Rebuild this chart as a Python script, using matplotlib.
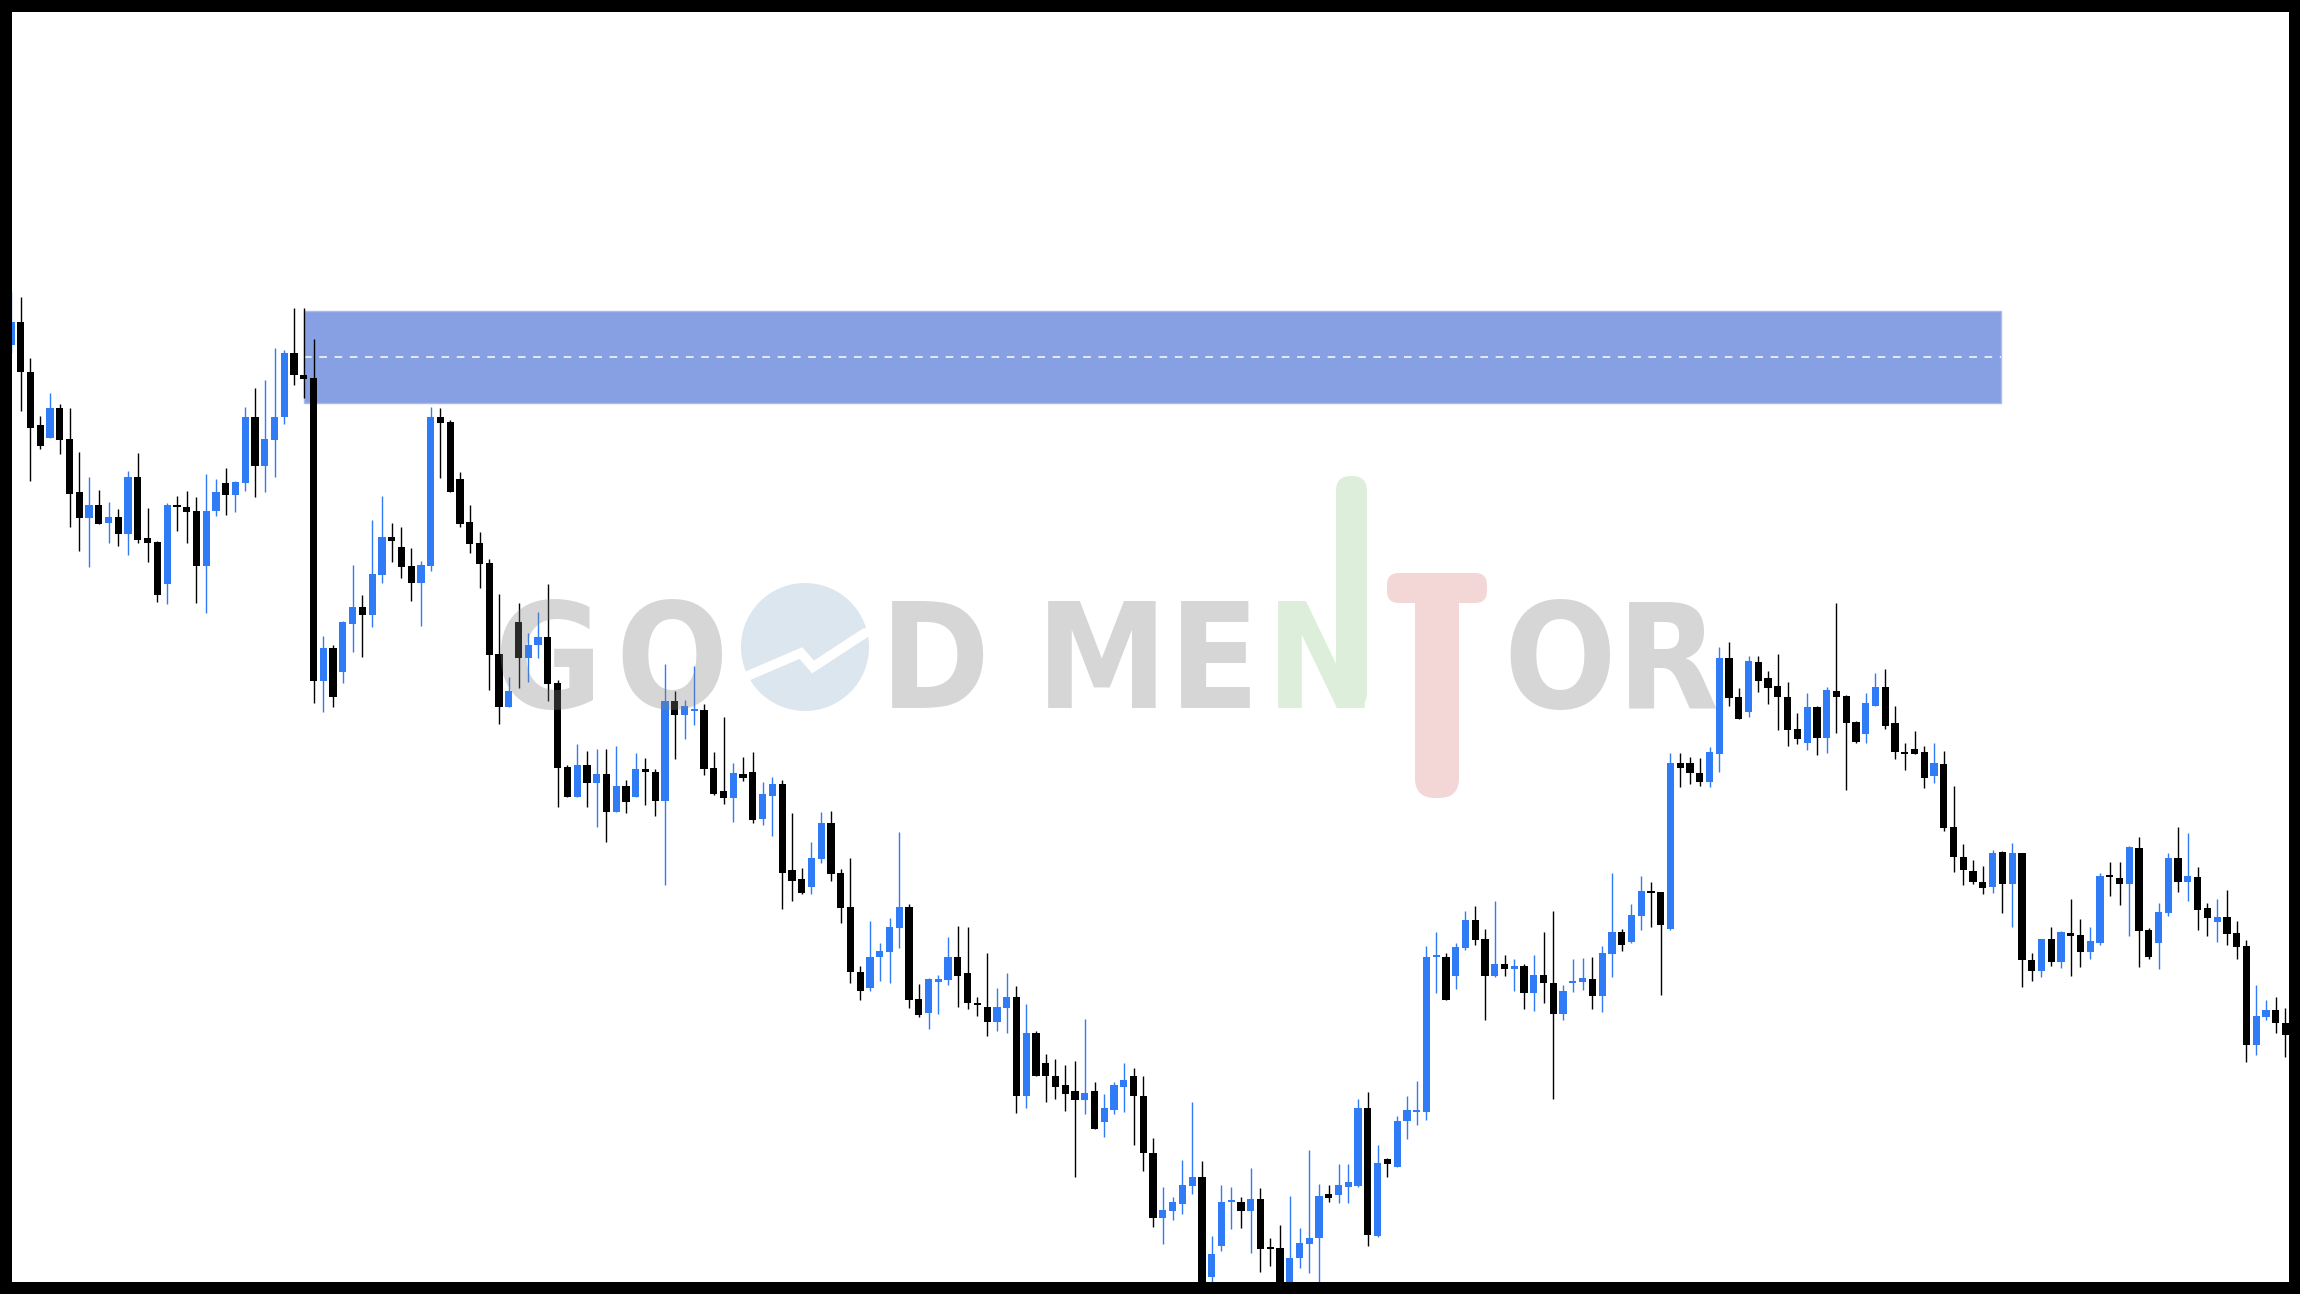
import matplotlib
matplotlib.use("Agg")
import matplotlib.pyplot as plt
import numpy as np
from matplotlib.patches import Rectangle, Circle, FancyBboxPatch

# OHLC per candle, in price points
open_ = [955, 978, 928, 875, 862, 892, 861, 808, 782, 795,
         777, 783, 766, 823, 762, 758, 716, 795, 793, 789,
         734, 789, 817, 805, 817, 883, 834, 860, 883, 947,
         925, 922, 619, 652, 628, 676, 693, 685, 725, 763,
         753, 734, 717, 734, 883, 878, 821, 778, 757, 737,
         646, 593, 678, 642, 655, 663, 617, 533, 503, 535,
         517, 526, 488, 514, 503, 531, 528, 499, 599, 585,
         589, 590, 532, 509, 502, 526, 528, 481, 504, 516,
         430, 421, 413, 441, 477, 427, 393, 328, 312, 343,
         348, 372, 393, 301, 287, 318, 320, 343, 327, 296,
         293, 278, 292, 303, 204, 267, 237, 224, 215, 209,
         200, 209, 178, 190, 213, 224, 204, 147, 82, 89,
         96, 114, 123, 23, 54, 98, 98, 89, 101, 52,
         52, 10, 42, 56, 62, 106, 105, 113, 114, 192,
         64, 141, 133, 179, 188, 188, 343, 343, 324, 352,
         380, 361, 324, 336, 331, 334, 307, 325, 317, 286,
         317, 318, 321, 304, 346, 368, 358, 384, 408, 408,
         371, 537, 537, 527, 518, 546, 642, 603, 588, 638,
         622, 614, 603, 571, 557, 593, 562, 609, 604, 578,
         566, 594, 613, 577, 547, 551, 548, 524, 536, 473,
         443, 429, 418, 413, 448, 416, 447, 340, 329, 361,
         338, 367, 365, 348, 357, 424, 422, 416, 452, 370,
         357, 387, 442, 418, 423, 392, 378, 383, 367, 354,
         255, 283, 290, 277]

high = [1008, 1003, 942, 884, 907, 896, 892, 848, 823, 810,
        798, 791, 829, 847, 792, 759, 797, 804, 809, 803,
        826, 821, 832, 819, 893, 912, 920, 952, 950, 992,
        992, 961, 664, 655, 679, 735, 705, 780, 804, 777,
        773, 752, 739, 893, 892, 880, 828, 795, 768, 741,
        706, 623, 697, 667, 688, 716, 620, 535, 556, 549,
        551, 551, 554, 520, 547, 542, 531, 636, 609, 600,
        634, 596, 548, 583, 537, 543, 548, 518, 523, 520,
        487, 432, 458, 488, 489, 431, 442, 334, 379, 357,
        382, 468, 396, 316, 322, 325, 363, 374, 373, 303,
        347, 312, 327, 314, 296, 269, 246, 241, 235, 239,
        281, 218, 206, 218, 237, 232, 224, 162, 113, 103,
        140, 198, 139, 64, 115, 113, 103, 132, 112, 62,
        75, 104, 72, 150, 116, 115, 136, 136, 201, 208,
        155, 142, 184, 204, 219, 354, 368, 347, 357, 389,
        394, 371, 399, 345, 341, 336, 345, 368, 389, 315,
        341, 342, 343, 354, 427, 371, 396, 424, 418, 408,
        547, 547, 543, 542, 553, 653, 658, 612, 644, 644,
        629, 646, 618, 587, 607, 594, 613, 697, 605, 579,
        607, 627, 631, 594, 557, 569, 554, 557, 549, 514,
        456, 440, 434, 450, 449, 457, 447, 347, 361, 373,
        369, 401, 381, 373, 427, 438, 438, 454, 463, 372,
        397, 447, 473, 467, 433, 397, 401, 410, 379, 360,
        315, 300, 303, 292]

low = [947, 889, 819, 851, 862, 846, 773, 749, 733, 776,
       757, 754, 745, 757, 738, 698, 696, 769, 757, 697,
       687, 784, 785, 788, 809, 803, 808, 823, 876, 915,
       902, 597, 588, 593, 617, 648, 643, 673, 717, 738,
       722, 699, 674, 729, 822, 808, 773, 747, 712, 610,
       576, 593, 612, 618, 642, 599, 493, 503, 503, 493,
       473, 458, 488, 487, 503, 495, 484, 415, 541, 561,
       575, 525, 505, 496, 478, 519, 477, 475, 464, 391,
       399, 406, 406, 437, 419, 377, 317, 300, 309, 319,
       317, 352, 292, 283, 271, 286, 315, 293, 291, 284,
       264, 269, 267, 187, 192, 224, 198, 201, 189, 123,
       186, 171, 163, 186, 188, 155, 129, 73, 56, 80,
       86, 106, 5, 10, 49, 71, 72, 47, 28, 34,
       2, 2, 32, 27, 8, 98, 97, 97, 113, 54,
       63, 123, 133, 161, 175, 180, 307, 300, 311, 350,
       355, 280, 323, 324, 309, 291, 289, 297, 201, 280,
       308, 310, 291, 288, 323, 349, 357, 370, 373, 305,
       370, 513, 516, 514, 513, 528, 594, 581, 583, 608,
       596, 570, 554, 556, 550, 545, 547, 567, 510, 557,
       557, 594, 571, 541, 530, 546, 512, 517, 469, 428,
       415, 416, 406, 407, 387, 373, 313, 319, 323, 334,
       332, 324, 333, 341, 355, 404, 395, 364, 333, 341,
       331, 384, 408, 399, 370, 364, 358, 355, 341, 238,
       245, 280, 267, 243]

close = [978, 928, 872, 854, 892, 860, 806, 782, 795, 776,
         783, 766, 823, 760, 757, 705, 795, 793, 788, 734,
         789, 808, 805, 818, 883, 834, 861, 883, 947, 925,
         921, 619, 652, 603, 678, 693, 685, 726, 763, 759,
         733, 717, 735, 883, 877, 808, 776, 756, 736, 645,
         593, 609, 642, 655, 663, 616, 532, 503, 535, 517,
         526, 488, 514, 498, 531, 528, 499, 599, 585, 594,
         591, 531, 506, 502, 527, 522, 480, 506, 516, 427,
         419, 407, 442, 477, 426, 392, 328, 309, 343, 349,
         373, 393, 300, 285, 321, 321, 343, 324, 297, 295,
         278, 293, 303, 204, 267, 224, 224, 213, 206, 200,
         207, 171, 192, 215, 220, 204, 147, 82, 90, 98,
         115, 123, 12, 46, 98, 100, 89, 101, 51, 51,
         10, 42, 57, 62, 104, 102, 115, 118, 192, 65,
         137, 136, 179, 190, 189, 343, 345, 300, 353, 380,
         360, 324, 336, 331, 334, 307, 325, 317, 286, 309,
         319, 322, 304, 347, 368, 355, 385, 409, 407, 375,
         537, 532, 527, 518, 548, 642, 602, 581, 639, 619,
         612, 603, 570, 561, 593, 562, 610, 603, 577, 558,
         597, 613, 574, 548, 546, 546, 522, 537, 472, 443,
         430, 418, 412, 447, 416, 447, 340, 329, 361, 338,
         368, 364, 348, 359, 424, 423, 416, 453, 369, 343,
         388, 442, 418, 424, 390, 382, 383, 366, 353, 255,
         284, 290, 277, 265]

# supply zone (price levels) and the candles it spans
zone_top = 989
zone_bottom = 897
zone_mid = 943
zone_from = 30.07
zone_to = 203.86

BULL = '#2F7CF6'
BEAR = '#000000'
ZONE = '#87A0E4'

W, H = 2300, 1294
fig = plt.figure(figsize=(W / 100, H / 100), dpi=100, facecolor='black')
ax = fig.add_axes([12 / W, 12 / H, 2277 / W, 1270 / H])
ax.set_facecolor('white')

o = np.array(open_)
c = np.array(close)
x = np.arange(len(o))
cols = np.where(c >= o, BULL, BEAR)

ax.add_patch(Rectangle((zone_from, zone_bottom), zone_to - zone_from,
                       zone_top - zone_bottom, facecolor=ZONE,
                       edgecolor='#a9baee', lw=1, zorder=1))
ax.hlines(zone_mid, zone_from, zone_to, colors='white', lw=1.1,
          linestyles=(0, (5, 5)), zorder=1.5)

ax.vlines(x, low, high, colors=cols, lw=1.0, zorder=2)
ax.bar(x, np.maximum(np.abs(c - o), 2), bottom=np.minimum(o, c),
       width=0.74, color=cols, linewidth=0, zorder=3)

ax.set_xlim(0.109, 233.36)
ax.set_ylim(18, 1288)
ax.set_xticks([])
ax.set_yticks([])
for s in ax.spines.values():
    s.set_visible(False)

# watermark, drawn in pixel space over the chart
wm = fig.add_axes([0, 0, 1, 1], zorder=5)
wm.set_xlim(0, W)
wm.set_ylim(H, 0)
wm.axis('off')
wm.patch.set_alpha(0)

base = 708
fs = 106
font = dict(fontsize=fs, fontweight='bold', family='DejaVu Sans',
            fontstretch='condensed', ha='center', va='baseline')
for ch, cx in [('G', 548), ('O', 672), ('D', 935), ('M', 1102),
               ('E', 1214), ('O', 1560), ('R', 1668)]:
    wm.text(cx, base, ch, color='#808080', alpha=0.32, **font)

wm.add_patch(Circle((805, 647), 64, facecolor='#DCE6EF', edgecolor='none'))
wm.plot([745, 801, 813, 865], [677, 653, 667, 633], color='white', lw=7,
        solid_capstyle='round', solid_joinstyle='miter')

green = '#DDEFDA'
wm.text(1321, base, 'N', color=green, **font)
wm.add_patch(FancyBboxPatch((1336, 476), 31, 232,
                            boxstyle='round,pad=0,rounding_size=15',
                            facecolor=green, edgecolor='none'))

pink = '#F3D6D6'
wm.add_patch(FancyBboxPatch((1387, 573), 100, 30,
                            boxstyle='round,pad=0,rounding_size=12',
                            facecolor=pink, edgecolor='none'))
wm.add_patch(FancyBboxPatch((1415, 580), 44, 218,
                            boxstyle='round,pad=0,rounding_size=20',
                            facecolor=pink, edgecolor='none'))

fig.savefig('out.png', dpi=100, facecolor='black')
